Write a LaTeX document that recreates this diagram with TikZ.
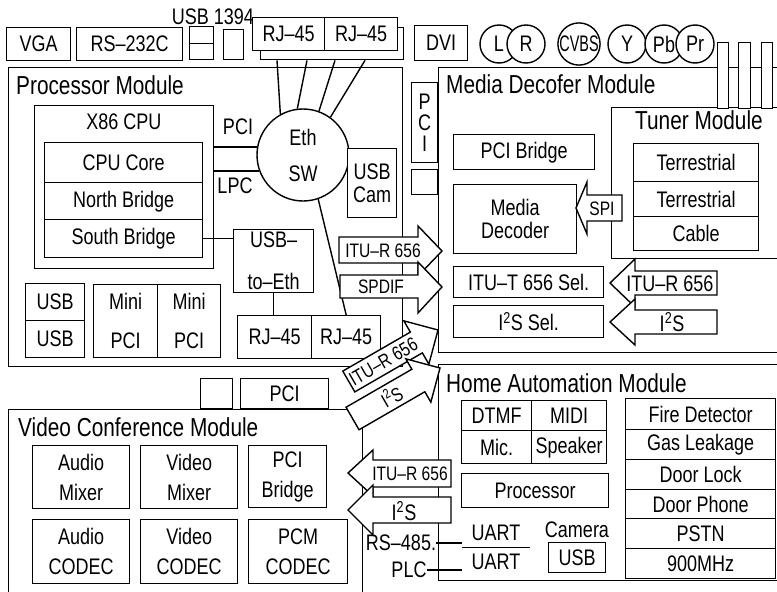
\documentclass[tikz,border=0pt]{standalone}
\usepackage{fontspec}
\setmainfont{Liberation Sans}[FakeStretch=0.8]
\usetikzlibrary{calc}
\newcommand\lblfont{\fontsize{22.5}{25}\selectfont}
\newcommand\ttlfont{\fontsize{26}{28}\selectfont}
\newcommand\smlfont{\fontsize{19.5}{21}\selectfont}
\tikzset{hwbox/.style={draw,fill=white,anchor=north west,inner sep=0pt,align=center,font=\lblfont,line width=1.4pt},hwmod/.style={draw,anchor=north west,inner sep=0pt,line width=1.4pt},wh/.style 2 args={minimum width=#1pt,minimum height=#2pt},twoline/.style={font=\fontsize{22.5}{#1}\selectfont},hwtitle/.style={anchor=west,inner sep=0pt,font=\ttlfont},hwlabel/.style={inner sep=0pt,align=center,font=\lblfont},hwsmall/.style={inner sep=0pt,align=center,font=\smlfont},hwjack/.style={draw,fill=white,circle,minimum size=38pt,inner sep=0pt,font=\lblfont,line width=1.4pt},hwblock/.style={draw,fill=white,line width=1.4pt,line join=miter},hwwire/.style={line width=1.4pt}}

\begin{document}
\begin{tikzpicture}[x=1pt,y=-1pt]
\useasboundingbox (0,0) rectangle (777,592);
\clip (0,0) rectangle (777,592);
\fill[white] (0,0) rectangle (777,592);
% rear panel connectors
\node[hwbox,wh={64}{33}] (vga) at (6,27) {VGA};
\node[hwbox,wh={106}{33}] (rs232) at (76,27) {RS--232C};
\node[hwbox,wh={24}{33}] (usbport) at (189,26) {};
\draw[hwwire] (usbport.west) -- (usbport.east);
\node[hwbox,wh={20}{30}] (fwport) at (223,29) {};
\node[hwlabel] (portlbl) at (213,17) {USB 1394};
\node[hwbox,wh={143}{32}] (rjback) at (260,27) {};
\node[hwbox,wh={72}{33}] (rjtopa) at (252,17) {RJ--45};
\node[hwbox,wh={73}{33}] (rjtopb) at (324,17) {RJ--45};
\node[hwbox,wh={53}{35}] (dvi) at (414,25) {DVI};
\foreach \cx/\t/\nm in {499/L/jl,526/R/jr,627/Y/jy,664/Pb/jpb,695/Pr/jpr} \node[hwjack] (\nm) at (\cx,44) {\t};
\node[hwjack] (jcvbs) at (579,44) {\scalebox{0.8}[1]{CVBS}};
% processor module
\node[hwmod,wh={394}{299}] (procmod) at (8,67) {};
\node[hwtitle] (proctitle) at (16,85) {Processor Module};
\node[hwmod,wh={179}{163}] (x86) at (34,105) {};
\node[hwlabel] (x86lbl) at (124,122) {X86 CPU};
\node[hwbox,wh={158}{40}] (cpucore) at (44,142) {CPU Core};
\node[hwbox,wh={158}{37}] (northbr) at (44,182) {North Bridge};
\node[hwbox,wh={158}{38}] (southbr) at (44,219) {South Bridge};
\node[hwjack,minimum size=92pt,align=center,twoline=36] (ethsw) at (303,155) {Eth\\SW};
\node[hwlabel] (pcilbl) at (238,127) {PCI};
\node[hwlabel] (lpclbl) at (235,186) {LPC};
\draw[hwwire] (ethsw.170) -- (ethsw.170 -| x86.east);
\draw[hwwire] (ethsw.200) -- (ethsw.200 -| x86.east);
\foreach \dx/\ang in {17/119,47/97,75/70,105/54} \draw[hwwire] ($(rjback.south west)+(\dx,0)$) -- (ethsw.\ang);
\node[hwbox,wh={49}{69},twoline=23] (usbcam) at (347,148) {USB\\Cam};
\node[hwbox,wh={80}{63},twoline=42] (usbeth) at (233,229) {USB--\\to--Eth};
\node[hwbox,wh={74}{43}] (rjlowa) at (237,315) {RJ--45};
\node[hwbox,wh={69}{43}] (rjlowb) at (311,315) {RJ--45};
\draw[hwwire] (southbr.east) -- (southbr.east -| usbeth.west);
\draw[hwwire] (usbeth.south) -- (usbeth.south |- rjlowa.north);
\draw[hwwire] (ethsw.-71) -- (rjlowb.north);
\node[hwbox,wh={59}{37}] (usba) at (25,283) {USB};
\node[hwbox,wh={59}{37}] (usbb) at (25,320) {USB};
\node[hwbox,wh={64}{73},twoline=39] (minia) at (93,284) {Mini\\PCI};
\node[hwbox,wh={63}{73},twoline=39] (minib) at (157,284) {Mini\\PCI};
% slots between modules
\node[hwbox,wh={26}{80},twoline=21] (pcivert) at (411,82) {P\\C\\I};
\node[hwbox,wh={26}{25}] (pcismall) at (411,169) {};
% media decoder module
\node[hwmod,wh={360}{285}] (mediamod) at (438,67) {};
\node[hwtitle] (mediatitle) at (446,84) {Media Decofer Module};
\node[hwmod,wh={180}{151}] (tuner) at (611,107) {};
\node[hwtitle] (tunertitle) at (635,120) {Tuner Module};
\foreach \ax/\aw [count=\i] in {717/11,738/12,761/11} \node[hwbox,wh={\aw}{66}] (ant\i) at (\ax,42) {};
\node[hwbox,wh={125}{38}] (terra) at (633,143) {Terrestrial};
\node[hwbox,wh={125}{35}] (terrb) at (633,181) {Terrestrial};
\node[hwbox,wh={125}{34}] (cable) at (633,216) {Cable};
\node[hwbox,wh={141}{35}] (pcibr) at (453,134) {PCI Bridge};
\node[hwbox,wh={123}{69},twoline=23] (mediadec) at (453,184) {Media\\Decoder};
\node[hwbox,wh={150}{31}] (itusel) at (453,266) {ITU--T 656 Sel.};
\node[hwbox,wh={150}{32}] (i2ssel) at (453,305) {I\textsuperscript{2}S Sel.};
% home automation module
\node[hwmod,wh={360}{216}] (homemod) at (438,364) {};
\node[hwtitle] (hometitle) at (446,383) {Home Automation Module};
\node[hwbox,wh={70}{30}] (dtmf) at (461,400) {DTMF};
\node[hwbox,wh={75}{30}] (midi) at (531,400) {MIDI};
\node[hwbox,wh={70}{33}] (mic) at (461,430) {Mic.};
\node[hwbox,wh={75}{33}] (speaker) at (531,430) {Speaker};
\node[hwbox,wh={147}{34}] (hproc) at (461,473) {Processor};
\node[hwlabel,wh={68}{28}] (uarta) at (496,533) {UART};
\node[hwlabel,wh={68}{28}] (uartb) at (496,562) {UART};
\draw[hwwire] (uarta.south west) -- (uarta.south east);
\node[hwlabel] (rs485) at (401,543) {RS--485.};
\node[hwlabel] (plc) at (409,570) {PLC};
\draw[hwwire] (rs485.east) -- (rs485.east -| uarta.west);
\draw[hwwire] (plc.east) -- (plc.east -| uartb.west);
\node[hwlabel] (camlbl) at (577,530) {Camera};
\node[hwbox,wh={57}{30}] (usbhome) at (548,542) {USB};
\foreach \t/\yy/\hh [count=\i] in {Fire Detector/398/31,Gas Leakage/429/30,Door Lock/459/30,Door Phone/489/29,PSTN/518/30,900MHz/548/30} \node[hwbox,wh={150}{\hh}] (sensor\i) at (625,\yy) {\t};
% video conference module
\node[hwbox,wh={32}{30}] (vcslot) at (200,378) {};
\node[hwbox,wh={88}{30}] (vcpci) at (240,378) {PCI};
\node[hwmod,wh={354}{200}] (vcmod) at (8,409) {};
\node[hwtitle] (vctitle) at (18,427) {Video Conference Module};
\node[hwbox,wh={97}{63},twoline=30] (amix) at (32,445) {Audio\\Mixer};
\node[hwbox,wh={97}{63},twoline=30] (vmix) at (140,445) {Video\\Mixer};
\node[hwbox,wh={78}{62},twoline=30] (vcpcibr) at (248,445) {PCI\\Bridge};
\node[hwbox,wh={97}{64},twoline=30] (acodec) at (32,519) {Audio\\CODEC};
\node[hwbox,wh={97}{64},twoline=30] (vcodec) at (140,519) {Video\\CODEC};
\node[hwbox,wh={99}{64},twoline=30] (pcmcodec) at (248,519) {PCM\\CODEC};
% block arrows
\draw[hwblock] (339,237) -- (418,237) -- (418,226) -- (442,251) -- (418,276) -- (418,263) -- (339,263) -- cycle;
\node[hwsmall] (itupm) at (383,251) {ITU--R 656};
\draw[hwblock] (340,275) -- (418,275) -- (418,262) -- (442,287) -- (418,313) -- (418,298) -- (340,298) -- cycle;
\node[hwsmall] (spdif) at (381,287) {SPDIF};
\draw[hwblock] (622,195) -- (587,195) -- (587,182) -- (576,208) -- (587,234) -- (587,221) -- (622,221) -- cycle;
\node[hwsmall] (spi) at (602,209) {SPI};
\draw[hwblock] (717,271) -- (635,271) -- (635,259) -- (610,283) -- (635,307) -- (635,295) -- (717,295) -- cycle;
\node[hwlabel] (itutuner) at (670,284) {ITU--R 656};
\draw[hwblock] (717,310) -- (635,310) -- (635,299) -- (610,322) -- (635,345) -- (635,334) -- (717,334) -- cycle;
\node[hwlabel] (i2stuner) at (672,322) {I\textsuperscript{2}S};
\begin{scope}[shift={(438,330)},rotate=30]
\draw[hwblock] (-103,-12) -- (-25,-12) -- (-25,-25) -- (0,0) -- (-25,25) -- (-25,12) -- (-103,12) -- cycle;
\node[hwsmall,rotate=30] (itudiag) at (-63,0) {ITU--R 656};
\end{scope}
\begin{scope}[shift={(440,368)},rotate=30]
\draw[hwblock] (-101,-13) -- (-25,-13) -- (-25,-25) -- (0,0) -- (-25,25) -- (-25,13) -- (-101,13) -- cycle;
\node[hwsmall,rotate=30] (i2sdiag) at (-56,0) {I\textsuperscript{2}S};
\end{scope}
\draw[hwblock] (451,460) -- (373,460) -- (373,450) -- (348,473) -- (373,496) -- (373,487) -- (451,487) -- cycle;
\node[hwsmall] (ituvc) at (410,474) {ITU--R 656};
\draw[hwblock] (451,497) -- (373,497) -- (373,485) -- (348,510) -- (373,535) -- (373,523) -- (451,523) -- cycle;
\node[hwlabel] (i2svc) at (404,511) {I\textsuperscript{2}S};
\end{tikzpicture}
\end{document}
